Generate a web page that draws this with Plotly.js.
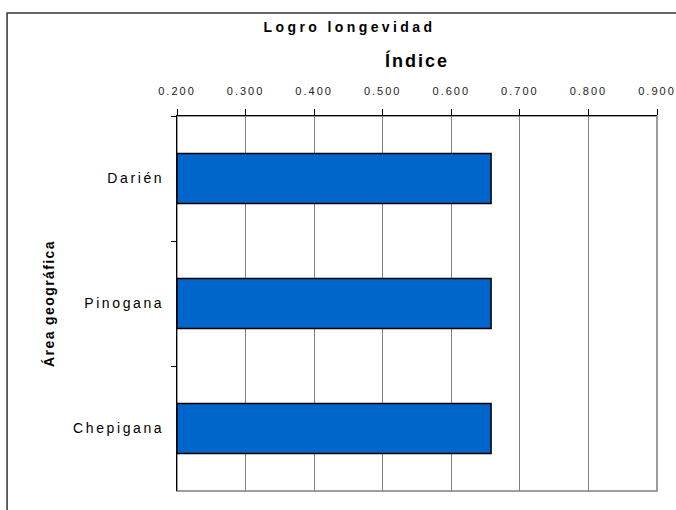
<!DOCTYPE html>
<html><head><meta charset="utf-8">
<script src="https://cdn.plot.ly/plotly-3.0.1.min.js"></script>
<style>
body{margin:0;background:#fff}
.xtick text{letter-spacing:2px}
.ytick text{letter-spacing:2.6px}
.gtitle{letter-spacing:3.4px}
.annotation-text{letter-spacing:2px}
.ytitle{letter-spacing:1.4px}
</style>
</head><body>
<div id="chart" style="width:676px;height:510px"></div>
<script>
const categories = ["Darién", "Pinogana", "Chepigana"];
const values = [0.658, 0.658, 0.658];
const tickVals = [0.2, 0.3, 0.4, 0.5, 0.6, 0.7, 0.8, 0.9];
const tickText = ["0.200", "0.300", "0.400", "0.500", "0.600", "0.700", "0.800", "0.900"];
const chartTitle = "Logro longevidad";
const xTitle = "Índice";
const yTitle = "Área geográfica";

const trace = {
  type: "bar", orientation: "h",
  x: values.map(v => v - 0.2), base: 0.2, y: categories,
  marker: {color: "#0066CC", line: {color: "#000", width: 1.5}},
  hoverinfo: "skip"
};

const layout = {
  width: 676, height: 510,
  margin: {l: 177, r: 19, t: 116, b: 19},
  paper_bgcolor: "#fff", plot_bgcolor: "#fff",
  font: {family: "Liberation Sans, Arial, sans-serif", color: "#000"},
  showlegend: false,
  bargap: 0.6,
  title: {text: "<b>" + chartTitle + "</b>", font: {size: 14}, x: 0.517, xanchor: "center", y: 0.946, yanchor: "middle"},
  xaxis: {
    side: "top", range: [0.2, 0.9], tickvals: tickVals, ticktext: tickText,
    tickfont: {size: 11, color: "#222"}, ticks: "outside", ticklen: 6, tickcolor: "#000",
    ticklabelstandoff: 9,
    showline: true, linecolor: "#000", linewidth: 1.5,
    showgrid: true, gridcolor: "#7f7f7f", gridwidth: 1, zeroline: false,
    automargin: false, fixedrange: true
  },
  yaxis: {
    type: "category", categoryorder: "array", categoryarray: categories, autorange: "reversed",
    tickson: "boundaries", ticks: "outside", ticklen: 5, tickcolor: "#000",
    tickfont: {size: 14, color: "#000"}, ticklabelstandoff: 9,
    showline: true, linecolor: "#000", linewidth: 1, showgrid: false, zeroline: false,
    title: {text: "<b>" + yTitle + "</b>", font: {size: 14}, standoff: 15},
    automargin: false, fixedrange: true
  },
  annotations: [
    {text: "<b>" + xTitle + "</b>", xref: "paper", yref: "paper", x: 0.5, y: 1.149,
     xanchor: "center", yanchor: "middle", showarrow: false, font: {size: 18}}
  ],
  shapes: [
    {type: "rect", xref: "paper", yref: "paper", x0: 0, x1: 1, y0: 0, y1: 1,
     line: {color: "#7f7f7f", width: 1.5}, layer: "below"},
    {type: "rect", xref: "paper", yref: "paper", x0: -0.354, x1: 1.2, y0: -0.2, y1: 1.2747,
     line: {color: "#333", width: 1.5}, fillcolor: "rgba(0,0,0,0)"}
  ]
};

Plotly.newPlot("chart", [trace], layout, {staticPlot: true, displayModeBar: false});
</script>
</body></html>
